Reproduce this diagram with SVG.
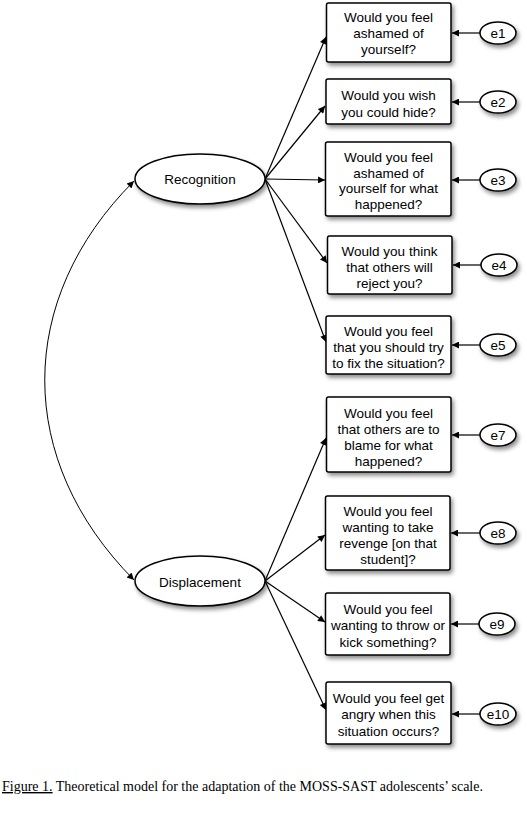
<svg xmlns="http://www.w3.org/2000/svg" width="527" height="813" viewBox="0 0 527 813">
<defs>
<filter id="sh" x="-20%" y="-20%" width="150%" height="160%">
<feDropShadow dx="2" dy="3" stdDeviation="2" flood-color="#000" flood-opacity="0.45"/>
</filter>
<marker id="ah" viewBox="0 0 10 10" refX="10" refY="5" markerWidth="9" markerHeight="7" markerUnits="userSpaceOnUse" orient="auto-start-reverse">
<path d="M0,0 L10,5 L0,10 z" fill="#000"/>
</marker>
</defs>
<style>
.box{fill:#fff;stroke:#000;stroke-width:1.5;filter:url(#sh)}
.lat{fill:#fff;stroke:#000;stroke-width:1.5;filter:url(#sh)}
.err{fill:#fff;stroke:#000;stroke-width:1.5;filter:url(#sh)}
.t{font-family:"Liberation Sans",Arial,sans-serif;font-size:13.5px;text-anchor:middle;fill:#000}
.c{stroke:#000;stroke-width:1.2;fill:none;marker-end:url(#ah)}
.cv{stroke:#000;stroke-width:1;fill:none;marker-end:url(#ah);marker-start:url(#ah)}
.cap{font-family:"Liberation Serif","Times New Roman",serif;font-size:14px;fill:#000}
</style>
<g id="connectors">
<path class="cv" d="M134,580 C15,460 15,300 134,181"/>
<line class="c" x1="265" y1="179" x2="326" y2="37"/>
<line class="c" x1="265" y1="179" x2="325" y2="106"/>
<line class="c" x1="265" y1="179" x2="325" y2="180"/>
<line class="c" x1="265" y1="179" x2="327" y2="263"/>
<line class="c" x1="265" y1="179" x2="326" y2="342"/>
<line class="c" x1="265" y1="581" x2="326" y2="438"/>
<line class="c" x1="265" y1="581" x2="325" y2="535"/>
<line class="c" x1="265" y1="581" x2="325" y2="622"/>
<line class="c" x1="265" y1="581" x2="326" y2="710"/>
<line class="c" x1="480" y1="33" x2="452" y2="33"/>
<line class="c" x1="480" y1="102" x2="452" y2="102"/>
<line class="c" x1="480" y1="180" x2="452" y2="180"/>
<line class="c" x1="481" y1="265" x2="453" y2="265"/>
<line class="c" x1="480" y1="345" x2="452" y2="345"/>
<line class="c" x1="480" y1="435" x2="452" y2="435"/>
<line class="c" x1="480" y1="533" x2="451" y2="533"/>
<line class="c" x1="479" y1="624" x2="451" y2="624"/>
<line class="c" x1="480" y1="714" x2="452" y2="714"/>
</g>
<g id="recognition">
<ellipse class="lat" cx="200" cy="179" rx="65" ry="25"/>
<text class="t" x="200" y="184">Recognition</text>
</g>
<g id="displacement">
<ellipse class="lat" cx="200" cy="581" rx="65" ry="25"/>
<text class="t" x="200" y="587">Displacement</text>
</g>
<g id="item1">
<rect class="box" x="326.5" y="3" width="124.5" height="59" rx="2"/>
<text class="t" x="388.5" y="22">Would you feel</text>
<text class="t" x="388.5" y="38">ashamed of</text>
<text class="t" x="388.5" y="54">yourself?</text>
</g>
<g id="item2">
<rect class="box" x="326" y="79" width="125" height="45" rx="2"/>
<text class="t" x="388.5" y="100">Would you wish</text>
<text class="t" x="388.5" y="117">you could hide?</text>
</g>
<g id="item3">
<rect class="box" x="325.5" y="142" width="125.5" height="74" rx="2"/>
<text class="t" x="388.5" y="162">Would you feel</text>
<text class="t" x="388.5" y="178">ashamed of</text>
<text class="t" x="388.5" y="193">yourself for what</text>
<text class="t" x="388.5" y="209">happened?</text>
</g>
<g id="item4">
<rect class="box" x="327.5" y="236" width="124.5" height="58" rx="2"/>
<text class="t" x="389.5" y="256">Would you think</text>
<text class="t" x="389.5" y="272">that others will</text>
<text class="t" x="389.5" y="288">reject you?</text>
</g>
<g id="item5">
<rect class="box" x="326" y="316" width="125" height="58" rx="2"/>
<text class="t" x="388.5" y="336">Would you feel</text>
<text class="t" x="388.5" y="352">that you should try</text>
<text class="t" x="388.5" y="368">to fix the situation?</text>
</g>
<g id="item7">
<rect class="box" x="326.5" y="397" width="124.5" height="75" rx="2"/>
<text class="t" x="388.5" y="418">Would you feel</text>
<text class="t" x="388.5" y="434">that others are to</text>
<text class="t" x="388.5" y="450">blame for what</text>
<text class="t" x="388.5" y="466">happened?</text>
</g>
<g id="item8">
<rect class="box" x="325.5" y="496" width="124.5" height="74" rx="2"/>
<text class="t" x="388" y="516">Would you feel</text>
<text class="t" x="388" y="532">wanting to take</text>
<text class="t" x="388" y="548">revenge [on that</text>
<text class="t" x="388" y="564">student]?</text>
</g>
<g id="item9">
<rect class="box" x="325.5" y="593" width="124.5" height="62" rx="2"/>
<text class="t" x="388" y="614">Would you feel</text>
<text class="t" x="388" y="630">wanting to throw or</text>
<text class="t" x="388" y="647">kick something?</text>
</g>
<g id="item10">
<rect class="box" x="326" y="682" width="125" height="62" rx="2"/>
<text class="t" x="388.5" y="703">Would you feel get</text>
<text class="t" x="388.5" y="719">angry when this</text>
<text class="t" x="388.5" y="736">situation occurs?</text>
</g>
<g id="e1"><ellipse class="err" cx="498" cy="33" rx="18" ry="11"/><text class="t" x="498" y="38">e1</text></g>
<g id="e2"><ellipse class="err" cx="498" cy="102" rx="18" ry="11"/><text class="t" x="498" y="107">e2</text></g>
<g id="e3"><ellipse class="err" cx="498" cy="180" rx="18" ry="11"/><text class="t" x="498" y="185">e3</text></g>
<g id="e4"><ellipse class="err" cx="499" cy="265" rx="18" ry="11"/><text class="t" x="499" y="270">e4</text></g>
<g id="e5"><ellipse class="err" cx="498" cy="345" rx="18" ry="11"/><text class="t" x="498" y="350">e5</text></g>
<g id="e7"><ellipse class="err" cx="498" cy="435" rx="18" ry="11"/><text class="t" x="498" y="440">e7</text></g>
<g id="e8"><ellipse class="err" cx="498" cy="533" rx="18" ry="11"/><text class="t" x="498" y="538">e8</text></g>
<g id="e9"><ellipse class="err" cx="497" cy="624" rx="18" ry="11"/><text class="t" x="497" y="629">e9</text></g>
<g id="e10"><ellipse class="err" cx="498" cy="714" rx="18" ry="11"/><text class="t" x="498" y="719">e10</text></g>
<text class="cap" x="2" y="791"><tspan text-decoration="underline">Figure 1.</tspan> Theoretical model for the adaptation of the MOSS-SAST adolescents’ scale.</text>
</svg>
